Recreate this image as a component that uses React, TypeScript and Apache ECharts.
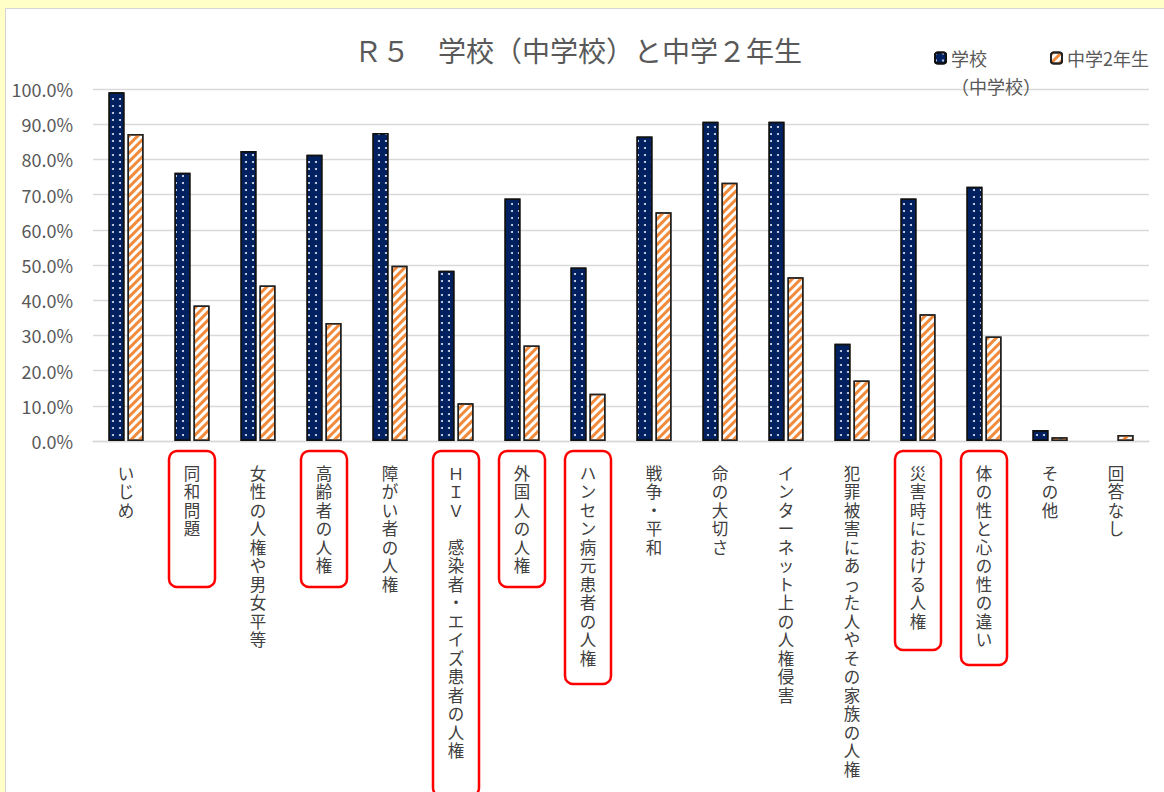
import React, { useEffect, useRef } from "react";
import * as echarts from "echarts";

const categories = [
  "いじめ",
  "同和問題",
  "女性の人権や男女平等",
  "高齢者の人権",
  "障がい者の人権",
  "ＨＩＶ　感染者・エイズ患者の人権",
  "外国人の人権",
  "ハンセン病元患者の人権",
  "戦争・平和",
  "命の大切さ",
  "インターネット上の人権侵害",
  "犯罪被害にあった人やその家族の人権",
  "災害時における人権",
  "体の性と心の性の違い",
  "その他",
  "回答なし",
];
const schoolValues = [99.1, 76.2, 82.4, 81.3, 87.5, 48.4, 68.9, 49.3, 86.5, 90.7, 90.7, 27.6, 68.9, 72.2, 3.1, 0];
const studentValues = [87.2, 38.5, 44.2, 33.5, 49.8, 10.7, 27.1, 13.4, 65.0, 73.4, 46.5, 17.2, 36.0, 29.7, 1.1, 1.7];
const highlighted = [
  "同和問題",
  "高齢者の人権",
  "ＨＩＶ　感染者・エイズ患者の人権",
  "外国人の人権",
  "ハンセン病元患者の人権",
  "災害時における人権",
  "体の性と心の性の違い",
];
const seriesNames = ["学校\n（中学校）", "中学2年生"];
const titleText = "Ｒ５　学校（中学校）と中学２年生";

// annotation box bottoms (layout of the red frames, not data)
const boxBottoms = [587, 587, 796, 587, 684, 650, 665];

const JP = "'Noto Sans CJK JP', 'Noto Sans', sans-serif";
const LABEL_FONT = "'Liberation Serif', 'Noto Sans CJK JP', serif";
const LABEL_LH = 18.5;

export default function App() {
  const ref = useRef<HTMLDivElement>(null);
  useEffect(() => {
    if (!ref.current) return;
    const chart = echarts.init(ref.current, undefined, { renderer: "svg" });
    const panel = {
      id: "panel",
      type: "rect",
      z: -10,
      silent: true,
      shape: { x: 5.5, y: 8.5, width: 1200, height: 820 },
      style: { fill: "#ffffff", stroke: "#d4d4d4", lineWidth: 1 },
    };
    const option: any = {
      animation: false,
      backgroundColor: "#FFFFC8",
      title: {
        text: titleText,
        left: 349,
        top: 31,
        textStyle: { fontFamily: JP, fontSize: 28, fontWeight: "normal", color: "#595959" },
      },
      legend: [
        {
          data: [seriesNames[0]],
          left: 934,
          top: 16,
          padding: 0,
          itemWidth: 11,
          itemHeight: 11,
          formatter: (name: string) => " \n" + name,
          textStyle: {
            fontFamily: JP,
            fontSize: 18,
            color: "#595959",
            lineHeight: 28,
          },
        },
        {
          data: [seriesNames[1]],
          left: 1050,
          top: 44,
          padding: 0,
          itemWidth: 11,
          itemHeight: 11,
          textStyle: { fontFamily: JP, fontSize: 18, color: "#595959", lineHeight: 28 },
        },
      ],
      grid: { left: 93, right: 15, top: 89, bottom: 351, containLabel: false },
      xAxis: {
        type: "category",
        data: categories,
        axisLine: { show: true, lineStyle: { color: "#d9d9d9", width: 1.3 } },
        axisTick: { show: false },
        axisLabel: {
          interval: 0,
          margin: 24,
          fontFamily: LABEL_FONT,
          fontSize: 16.5,
          lineHeight: LABEL_LH,
          color: "#404040",
          verticalAlign: "top",
          formatter: (v: string) => v.split("").join("\n"),
        },
      },
      yAxis: {
        type: "value",
        min: 0,
        max: 100,
        interval: 10,
        axisLine: { show: false },
        axisTick: { show: false },
        splitLine: { lineStyle: { color: "#d9d9d9", width: 1.3 } },
        axisLabel: {
          margin: 20,
          fontFamily: JP,
          fontSize: 18,
          color: "#595959",
          formatter: (v: number) => v.toFixed(1) + "%",
        },
      },
      series: [
        {
          name: seriesNames[0],
          type: "bar",
          data: schoolValues.map((v) => (v === 0 ? { value: v, itemStyle: { borderWidth: 0 } } : v)),
          barWidth: 16,
          barGap: "19%",
          itemStyle: {
            color: "#002060",
            borderColor: "#111111",
            borderWidth: 1.5,
            decal: {
              symbol: "circle",
              symbolSize: 1,
              color: "#dfe6f5",
              dashArrayX: [2, 4.3],
              dashArrayY: [2, 4.3],
              rotation: 0,
            },
          },
        },
        {
          name: seriesNames[1],
          type: "bar",
          data: studentValues.map((v) => (v === 0 ? { value: v, itemStyle: { borderWidth: 0 } } : v)),
          barWidth: 16,
          itemStyle: {
            color: "#ffffff",
            borderColor: "#222222",
            borderWidth: 1.5,
            decal: {
              symbol: "rect",
              symbolSize: 1,
              color: "#F08A3C",
              dashArrayX: [1, 0],
              dashArrayY: [2.2, 2.2],
              rotation: -Math.PI / 4,
            },
          },
        },
      ],
      graphic: [panel],
    };
    chart.setOption(option);

    const boxes: any[] = highlighted.map((name, i) => {
      const cx = chart.convertToPixel({ xAxisIndex: 0 }, name) as unknown as number;
      const bottom = boxBottoms[i];
      return {
        id: "box" + i,
        type: "rect",
        z: 10,
        silent: true,
        shape: { x: cx - 23, y: 451, width: 46, height: bottom - 451, r: 8 },
        style: { fill: "none", stroke: "#ff0000", lineWidth: 2.5 },
      };
    });
    chart.setOption({ graphic: [panel, ...boxes] });

    return () => chart.dispose();
  }, []);
  return (
    <div
      ref={ref}
      style={{ position: "absolute", left: 0, top: 0, width: 1164, height: 792 }}
    />
  );
}
